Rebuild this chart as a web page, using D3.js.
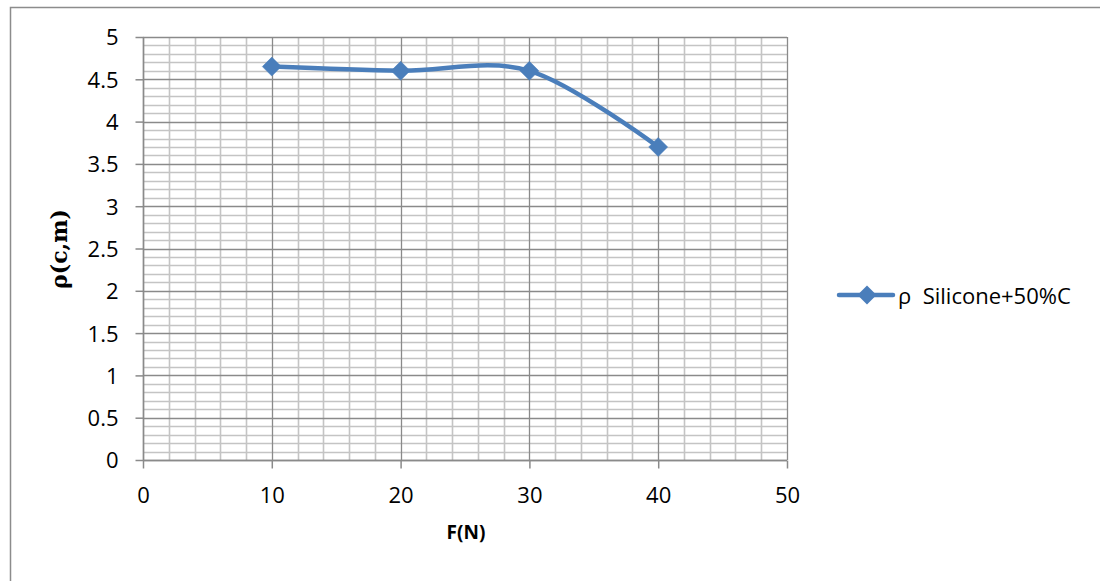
<!DOCTYPE html>
<html>
<head>
<meta charset="utf-8">
<script src="https://cdn.jsdelivr.net/npm/d3@7"></script>
<style>
  html, body { margin: 0; padding: 0; background: #fff; }
  svg { display: block; }
  text { font-family: "Open Sans", "Noto Sans", sans-serif; fill: #000; }
</style>
</head>
<body>
<svg id="chart" width="1100" height="581"></svg>
<script>
// Resistivity vs applied force
const forces = [10, 20, 30, 40];
const rho = [4.65, 4.6, 4.6, 3.7];
const seriesName = "ρ\u00a0 Silicone+50%C";
const xTicks = [0, 10, 20, 30, 40, 50];
const yTicks = [0, 0.5, 1, 1.5, 2, 2.5, 3, 3.5, 4, 4.5, 5];
const xTitle = "F(N)";
const yTitle = "ρ(c,m)";

const plot = { left: 143, right: 787, top: 37, bottom: 460 };
const blue = "#4a7ebb";

const svg = d3.select("#chart");

// chart frame
svg.append("rect")
  .attr("x", 10.5).attr("y", 7.5)
  .attr("width", 1200).attr("height", 700)
  .attr("fill", "#fff").attr("stroke", "#8c8c8c").attr("stroke-width", 1.5);

const x = d3.scaleLinear().domain([0, 50]).range([plot.left, plot.right]);
const y = d3.scaleLinear().domain([0, 5]).range([plot.bottom, plot.top]);

// minor gridlines
const g = svg.append("g");
const minorX = d3.range(0, 50.001, 2).filter(v => v % 10 !== 0);
const minorY = d3.range(0, 5.0001, 0.1).map(v => +v.toFixed(1)).filter(v => Math.abs(v * 2 - Math.round(v * 2)) > 1e-6);

g.selectAll(".mx").data(minorX).join("line")
  .attr("x1", d => Math.round(x(d)) + 0.5).attr("x2", d => Math.round(x(d)) + 0.5)
  .attr("y1", plot.top).attr("y2", plot.bottom)
  .attr("stroke", "#c4c4c4").attr("stroke-width", 1.6);
g.selectAll(".my").data(minorY).join("line")
  .attr("y1", d => Math.round(y(d)) + 0.5).attr("y2", d => Math.round(y(d)) + 0.5)
  .attr("x1", plot.left).attr("x2", plot.right)
  .attr("stroke", "#c4c4c4").attr("stroke-width", 1.6);

// major gridlines
g.selectAll(".Mx").data(xTicks).join("line")
  .attr("x1", d => Math.round(x(d)) + 0.5).attr("x2", d => Math.round(x(d)) + 0.5)
  .attr("y1", plot.top).attr("y2", plot.bottom)
  .attr("stroke", "#8a8a8a").attr("stroke-width", 1.3);
g.selectAll(".My").data(yTicks).join("line")
  .attr("y1", d => Math.round(y(d)) + 0.5).attr("y2", d => Math.round(y(d)) + 0.5)
  .attr("x1", plot.left).attr("x2", plot.right)
  .attr("stroke", "#8a8a8a").attr("stroke-width", 1.3);

// axes
const xAxis = d3.axisBottom(x).tickValues(xTicks).tickSize(8).tickPadding(20).tickFormat(d3.format("d"));
const yAxis = d3.axisLeft(y).tickValues(yTicks).tickSize(8).tickPadding(17).tickFormat(d => String(d));

const gx = svg.append("g").attr("transform", `translate(0,${plot.bottom + 0.5})`).call(xAxis);
const gy = svg.append("g").attr("transform", `translate(${plot.left + 0.5},0)`).call(yAxis);
[gx, gy].forEach(a => {
  a.attr("font-family", null).attr("font-size", null);
  a.select(".domain").attr("stroke", "#8a8a8a").attr("stroke-width", 1.5);
  a.selectAll(".tick line").attr("stroke", "#8a8a8a").attr("stroke-width", 1.5);
  a.selectAll(".tick text").style("font-family", "'Open Sans', sans-serif").style("font-size", "22px").attr("fill", "#000");
});
gx.select(".domain").attr("d", `M${plot.left},0H${plot.right}`);
gy.select(".domain").attr("d", `M0,${plot.top}V${plot.bottom}`);
gy.selectAll(".tick text").attr("dy", "0.36em");
gx.selectAll(".tick text").attr("dy", "0.68em");

// axis titles
svg.append("text")
  .attr("x", (plot.left + plot.right) / 2 + 1).attr("y", 539)
  .attr("text-anchor", "middle")
  .style("font-size", "19px").style("font-weight", "bold")
  .text(xTitle);
svg.append("text")
  .attr("transform", `translate(67,249) rotate(-90)`)
  .attr("text-anchor", "middle")
  .style("font-family", "'DejaVu Serif', serif").style("font-size", "22px").style("font-weight", "bold")
  .text(yTitle);

// series
const pts = forces.map((f, i) => [f, rho[i]]);
const line = d3.line().x(d => x(d[0])).y(d => y(d[1])).curve(d3.curveCatmullRom.alpha(0));
svg.append("path").datum(pts)
  .attr("d", line).attr("fill", "none")
  .attr("stroke", blue).attr("stroke-width", 4.5)
  .attr("stroke-linejoin", "round").attr("stroke-linecap", "round");

const diamond = (cx, cy, r) => `M${cx},${cy - r}L${cx + r},${cy}L${cx},${cy + r}L${cx - r},${cy}Z`;
svg.selectAll(".mk").data(pts).join("path")
  .attr("d", d => diamond(x(d[0]), y(d[1]), 9.5))
  .attr("fill", blue).attr("stroke", blue).attr("stroke-width", 0.5);

// legend
const lg = svg.append("g");
lg.append("line").attr("x1", 839).attr("x2", 893).attr("y1", 295).attr("y2", 295)
  .attr("stroke", blue).attr("stroke-width", 4.5).attr("stroke-linecap", "round");
lg.append("path").attr("d", diamond(867, 295, 9.5)).attr("fill", blue);
lg.append("text").attr("x", 898).attr("y", 304)
  .style("font-size", "22px").style("white-space", "pre")
  .text(seriesName);
</script>
</body>
</html>
